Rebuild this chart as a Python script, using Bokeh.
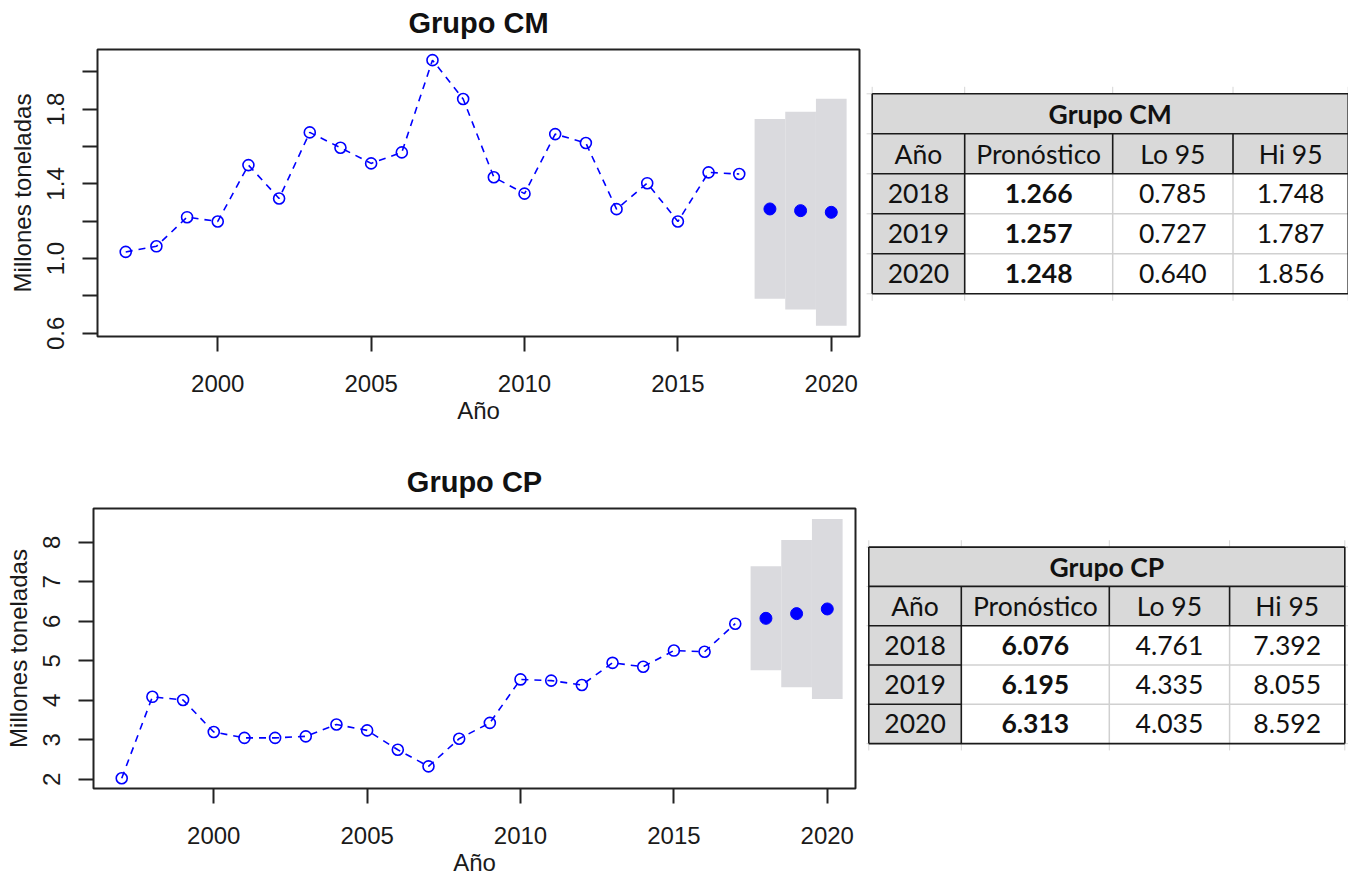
from bokeh.plotting import figure
from bokeh.layouts import column, row
from bokeh.models import Range1d, FixedTicker, Title
from bokeh.embed import file_html
from bokeh.resources import INLINE
from bokeh.core.properties import value

# ---------------- data ----------------
years_hist = list(range(1997, 2018))
cm_hist = [1.036, 1.066, 1.222, 1.199, 1.501, 1.322, 1.676, 1.594, 1.510, 1.569,
           2.063, 1.855, 1.436, 1.348, 1.667, 1.619, 1.265, 1.404, 1.199, 1.462, 1.453]
cp_hist = [2.03, 4.09, 4.01, 3.20, 3.05, 3.05, 3.09, 3.39, 3.24, 2.75,
           2.33, 3.03, 3.43, 4.53, 4.50, 4.39, 4.95, 4.85, 5.26, 5.23, 5.94]
years_fc = [2018, 2019, 2020]
cm_fc = [1.266, 1.257, 1.248]
cm_lo = [0.785, 0.727, 0.640]
cm_hi = [1.748, 1.787, 1.856]
cp_fc = [6.076, 6.195, 6.313]
cp_lo = [4.761, 4.335, 4.035]
cp_hi = [7.392, 8.055, 8.592]

x_ticks = [2000, 2005, 2010, 2015, 2020]
cm_y_ticks = [0.6, 0.8, 1.0, 1.2, 1.4, 1.6, 1.8, 2.0]
cm_y_labels = ["0.6", "", "1.0", "", "1.4", "", "1.8", ""]
cp_y_ticks = [2, 3, 4, 5, 6, 7, 8]
cp_y_labels = ["2", "3", "4", "5", "6", "7", "8"]
table_header = ["Año", "Pronóstico", "Lo 95", "Hi 95"]

BLUE = "#0000ff"
AX_FONT = "Liberation Sans"
TB_FONT = "Lato"


def chart(title, hist, fc, lo, hi, yr, yticks, ylabels, W, H, ml, mr, mt, mb):
    p = figure(width=W, height=H, output_backend="svg", toolbar_location=None,
               x_range=Range1d(1996.08, 2020.92), y_range=Range1d(*yr),
               min_border_left=ml, min_border_right=mr,
               min_border_top=mt, min_border_bottom=mb)
    p.grid.visible = False
    p.outline_line_color = "#222222"
    p.outline_line_width = 2
    p.background_fill_color = "white"
    p.border_fill_color = "white"
    # small empty spacer between frame and title
    p.add_layout(Title(text=" ", text_font_size="8px", standoff=0), "above")
    p.add_layout(Title(text=title, align="center", text_font=AX_FONT,
                       text_font_size="29px", text_font_style="bold",
                       text_color="#111111", standoff=0), "above")

    p.quad(left=[y - 0.5 for y in years_fc], right=[y + 0.5 for y in years_fc],
           bottom=lo, top=hi, fill_color="#dadade", line_color=None)
    p.line(years_hist, hist, line_color=BLUE, line_width=1.6, line_dash="7 6")
    p.scatter(years_hist, hist, marker="circle", size=11, fill_color=None,
              line_color=BLUE, line_width=1.6)
    p.scatter(years_fc, fc, marker="circle", size=12, fill_color=BLUE,
              line_color=BLUE)

    for ax in (p.xaxis[0], p.yaxis[0]):
        ax.major_tick_out = 15
        ax.major_tick_in = 0
        ax.minor_tick_out = 0
        ax.minor_tick_in = 0
        ax.major_tick_line_width = 2
        ax.major_tick_line_color = "#222222"
        ax.axis_line_color = None
        ax.major_label_text_font = AX_FONT
        ax.major_label_text_font_size = "24px"
        ax.major_label_text_color = "#1a1a1a"
        ax.axis_label_text_font = AX_FONT
        ax.axis_label_text_font_size = "24px"
        ax.axis_label_text_font_style = "normal"
        ax.axis_label_text_color = "#1a1a1a"

    p.xaxis.ticker = FixedTicker(ticks=x_ticks)
    p.xaxis.axis_label = "Año"
    p.xaxis.major_label_standoff = 23
    p.xaxis.axis_label_standoff = 2

    p.yaxis.ticker = FixedTicker(ticks=yticks)
    p.yaxis.major_label_overrides = {t: l for t, l in zip(yticks, ylabels)}
    p.yaxis.major_label_orientation = "vertical"
    p.yaxis.axis_label = "Millones toneladas"
    p.yaxis.major_label_standoff = 18
    p.yaxis.axis_label_standoff = 9
    return p


def table(title, fc, lo, hi, W, H, mt, mb, x0, y0):
    # coordinates of this figure are its own pixel positions
    p = figure(width=W, height=H, output_backend="svg", toolbar_location=None,
               x_range=Range1d(0, W), y_range=Range1d(H - mb, mt),
               x_axis_type=None, y_axis_type=None,
               min_border_left=0, min_border_right=0,
               min_border_top=mt, min_border_bottom=mb)
    p.grid.visible = False
    p.outline_line_color = None
    p.background_fill_color = "white"
    p.border_fill_color = "white"

    cw = [92.5, 148.0, 120.3, 115.2]
    rh = 40.0
    xs = [x0]
    for w in cw:
        xs.append(xs[-1] + w)
    ys = [y0 + i * rh for i in range(6)]
    x1 = xs[-1]
    y1 = ys[-1]

    # faint spreadsheet gridlines
    p.segment(x0=xs, y0=[y0 - 7] * len(xs), x1=xs, y1=[y1 + 7] * len(xs),
              line_color="#d6d6d6", line_width=1)
    p.segment(x0=[x0 - 6] * len(ys), y0=ys, x1=[x1 + 6] * len(ys), y1=ys,
              line_color="#d6d6d6", line_width=1)

    # fills
    p.quad(left=[x0], right=[x1], top=[ys[0]], bottom=[ys[2]], fill_color="#d9d9d9", line_color=None)
    p.quad(left=[x0], right=[xs[1]], top=[ys[2]], bottom=[ys[5]], fill_color="#d9d9d9", line_color=None)
    p.quad(left=[xs[1]], right=[x1], top=[ys[2]], bottom=[ys[5]], fill_color="white", line_color=None)

    # light inner lines in data area
    p.segment(x0=[xs[1]] * 2, y0=ys[3:5], x1=[x1] * 2, y1=ys[3:5], line_color="#d0d0d0", line_width=1.5)
    p.segment(x0=xs[2:4], y0=[ys[2]] * 2, x1=xs[2:4], y1=[y1] * 2, line_color="#d0d0d0", line_width=1.5)

    # dark borders
    dk = "#1a1a1a"
    p.segment(x0=[x0] * 3 + [x0] * 2, y0=[ys[0], ys[1], ys[2], ys[3], ys[4]],
              x1=[x1] * 3 + [xs[1]] * 2, y1=[ys[0], ys[1], ys[2], ys[3], ys[4]],
              line_color=dk, line_width=1.6)
    p.segment(x0=xs[1:4], y0=[ys[1]] * 3, x1=xs[1:4], y1=[ys[2]] * 3, line_color=dk, line_width=1.6)
    p.segment(x0=[xs[1]], y0=[ys[2]], x1=[xs[1]], y1=[y1], line_color=dk, line_width=1.6)
    p.segment(x0=[x0, x1, x0], y0=[ys[0], ys[0], y1], x1=[x0, x1, x1], y1=[y1, y1, y1],
              line_color=dk, line_width=1.6)

    cx = [(xs[i] + xs[i + 1]) / 2 for i in range(4)]
    cy = [(ys[i] + ys[i + 1]) / 2 for i in range(5)]
    common = dict(text_align="center", text_baseline="middle", text_font=value(TB_FONT),
                  text_font_size="26.5px", text_color="#111111")
    p.text(x=[(x0 + x1) / 2], y=[cy[0]], text=[title], text_font_style="bold", **common)
    p.text(x=cx, y=[cy[1]] * 4, text=table_header, **common)
    p.text(x=[cx[0]] * 3, y=cy[2:5], text=[str(y) for y in years_fc], **common)
    p.text(x=[cx[1]] * 3, y=cy[2:5], text=[f"{v:.3f}" for v in fc], text_font_style="bold", **common)
    p.text(x=[cx[2]] * 3, y=cy[2:5], text=[f"{v:.3f}" for v in lo], **common)
    p.text(x=[cx[3]] * 3, y=cy[2:5], text=[f"{v:.3f}" for v in hi], **common)
    return p


c1 = chart("Grupo CM", cm_hist, cm_fc, cm_lo, cm_hi, (0.583, 2.120), cm_y_ticks, cm_y_labels,
           866, 458, 97, 7, 49, 122)
c2 = chart("Grupo CP", cp_hist, cp_fc, cp_lo, cp_hi, (1.77, 8.855), cp_y_ticks, cp_y_labels,
           866, 420, 93, 11, 50, 85)
t1 = table("Grupo CM", cm_fc, cm_lo, cm_hi, 482, 458, 49, 122, 5.7, 93.3)
t2 = table("Grupo CP", cp_fc, cp_lo, cp_hi, 482, 420, 50, 85, 2.3, 89.3)

layout = column(row(c1, t1), row(c2, t2))
open("out.html", "w").write(file_html(layout, INLINE))
